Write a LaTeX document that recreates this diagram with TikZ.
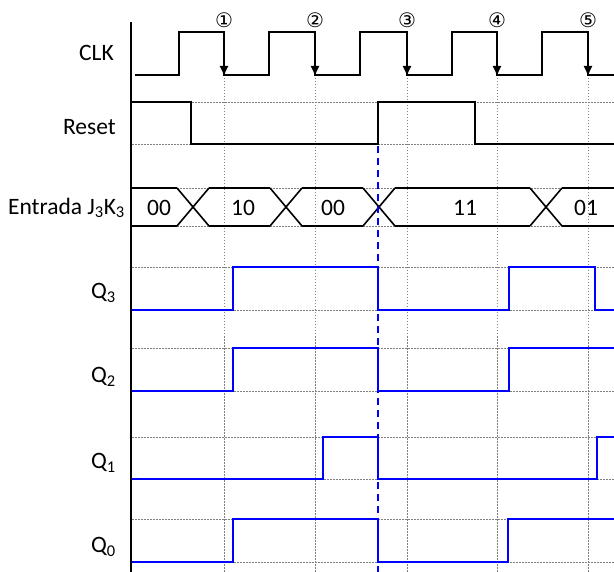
\documentclass[tikz,border=0pt]{standalone}
\usepackage{fontspec}
\setmainfont{Carlito}
\newfontfamily\circfont{DejaVu Sans}
\usepackage{tikz}
\usetikzlibrary{arrows.meta}

\tikzset{
	sig/.style={line width=1.6pt, black},
	qsig/.style={line width=2pt, blue},
	gridln/.style={gray, dash pattern=on 1.5pt off 1.5pt, line width=0.7pt},
	lbl/.style={anchor=east, inner sep=0pt, font=\fontsize{23.5}{25}\selectfont},
	val/.style={inner sep=0pt, font=\fontsize{23.5}{25}\selectfont},
}

\begin{document}
\begin{tikzpicture}[x=1pt, y=-1pt]
	\useasboundingbox (0,0) rectangle (614,572);
	
	% reference grid
	\foreach \y in {102,144,188,226,267,310,348,391,437,479,519,562} {
		\draw[gridln] (132,\y) -- (614,\y);
	}
	\foreach \x in {224,315,407,497,588} {
		\draw[gridln] (\x,75) -- (\x,572);
	}
	
	% axis
	\draw[line width=2.8pt] (131,22) -- (131,572);
	
	% labels
	\node[lbl] (clk) at (114,53) {CLK};
	\node[lbl] (rst) at (116,127) {Reset};
	\node[lbl] (jk) at (125,208) {Entrada J\textsubscript{3}K\textsubscript{3}};
	\node[lbl] (q3) at (116,293) {Q\textsubscript{3}};
	\node[lbl] (q2) at (116,377) {Q\textsubscript{2}};
	\node[lbl] (q1) at (116,463) {Q\textsubscript{1}};
	\node[lbl] (q0) at (116,547) {Q\textsubscript{0}};
	
	% clock
	\draw[sig] (135,75) -- (179,75) -- (179,32) -- (224,32) -- (224,75) -- (269,75) -- (269,32) -- (315,32) -- (315,75)
		-- (360,75) -- (360,32) -- (407,32) -- (407,75) -- (452,75) -- (452,32) -- (497,32) -- (497,75)
		-- (542,75) -- (542,32) -- (588,32) -- (588,75) -- (614,75);
	\foreach \k/\x/\c in {1/224/①, 2/315/②, 3/407/③, 4/497/④, 5/588/⑤} {
		\draw[line width=1.8pt, -{Triangle[length=9pt,width=8pt]}] (\x,32) -- (\x,75);
		\node[inner sep=0pt, font=\circfont\fontsize{20}{20}\selectfont] (n\k) at (\x,20) {\c};
	}
	
	% reset
	\draw[sig] (132,102) -- (191,102) -- (191,144) -- (378,144) -- (378,102) -- (475,102) -- (475,144) -- (614,144);
	
	% input bus
	\foreach \c in {193,286,379,546} {
		\draw[sig] (\c-16,188) -- (\c+16,226);
		\draw[sig] (\c-16,226) -- (\c+16,188);
	}
	\foreach \a/\b in {132/177, 209/270, 302/363, 395/530, 562/614} {
		\draw[sig] (\a,188) -- (\b,188);
		\draw[sig] (\a,226) -- (\b,226);
	}
	\foreach \x/\v in {159/00, 243/10, 333/00, 465/11, 586/01} {
		\node[val] (v\x) at (\x,208) {\v};
	}
	
	% outputs
	\draw[qsig] (132,310) -- (233,310) -- (233,267) -- (378,267) -- (378,310) -- (509,310) -- (509,267) -- (595,267) -- (595,310) -- (614,310);
	\draw[qsig] (132,391) -- (233,391) -- (233,348) -- (378,348) -- (378,391) -- (509,391) -- (509,348) -- (614,348);
	\draw[qsig] (132,479) -- (323,479) -- (323,437) -- (378,437) -- (378,479) -- (597,479) -- (597,437) -- (614,437);
	\draw[qsig] (132,562) -- (233,562) -- (233,519) -- (378,519) -- (378,562) -- (508,562) -- (508,519) -- (614,519);
	
	% reset instant
	\draw[blue, line width=1.6pt, dash pattern=on 7pt off 5pt] (378,146) -- (378,572);
\end{tikzpicture}
\end{document}
